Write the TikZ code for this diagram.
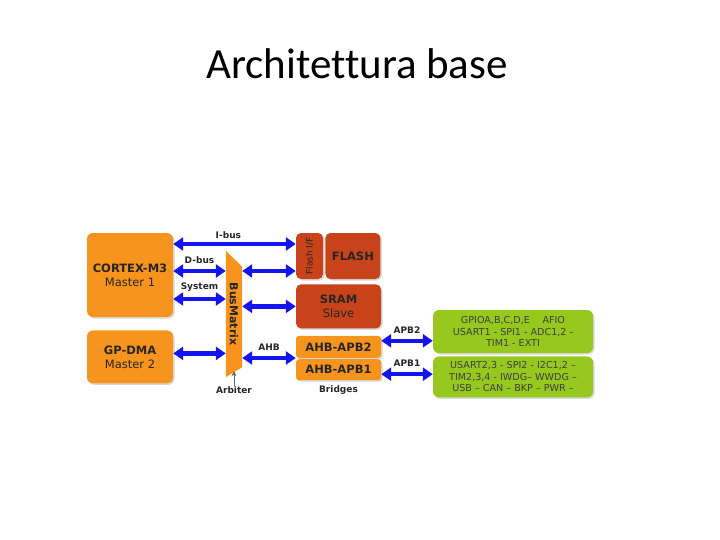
\documentclass[tikz,border=0pt]{standalone}
\usepackage{fontspec}
\setmainfont{Carlito}[Ligatures=CommonOff]
\newfontfamily\diagfont{DejaVu Sans}
\usepackage{tikz}
\usetikzlibrary{arrows.meta, positioning, shadows}
\definecolor{orange}{HTML}{F7941D}
\definecolor{rust}{HTML}{C8431A}
\definecolor{lime}{HTML}{96C81E}
\definecolor{busblue}{HTML}{1414F0}
\tikzset{
  master/.style={rectangle, rounded corners=6pt, fill=orange, align=center, text=black!85, inner sep=0pt, font=\diagfont\fontsize{11.5}{14}\selectfont, drop shadow={shadow xshift=1.5pt, shadow yshift=-1.5pt, opacity=0.3}},
  slave/.style={rectangle, rounded corners=5pt, fill=rust, align=center, text=black!85, inner sep=0pt, font=\diagfont\fontsize{11.5}{14}\selectfont, drop shadow={shadow xshift=1.5pt, shadow yshift=-1.5pt, opacity=0.3}},
  bridge/.style={rectangle, rounded corners=3pt, fill=orange, text=black!85, inner sep=0pt, font=\diagfont\bfseries\fontsize{11.5}{13}\selectfont, drop shadow={shadow xshift=1.5pt, shadow yshift=-1.5pt, opacity=0.3}},
  periph/.style={rectangle, rounded corners=6pt, fill=lime, align=center, text=black!75, inner sep=0pt, font=\diagfont\fontsize{9.6}{11.5}\selectfont, drop shadow={shadow xshift=1.5pt, shadow yshift=-1.5pt, opacity=0.3}},
  bus/.style={{Triangle[width=13pt,length=10pt]}-{Triangle[width=13pt,length=10pt]}, line width=4.5pt, draw=busblue},
  lbl/.style={font=\diagfont\bfseries\fontsize{9}{10}\selectfont, text=black!85, inner sep=0pt},
}
\begin{document}
\begin{tikzpicture}[x=1pt, y=-1pt]
  \useasboundingbox (0,0) rectangle (720,540);

  \node (title) [anchor=base, font=\fontsize{43}{50}\selectfont] at (357,79) {Architettura base};

  % masters
  \node (cortex) [master, minimum width=86pt, minimum height=84pt] at (130,275) {\textbf{CORTEX-M3}\\Master 1};
  \node (dma) [master, minimum width=86pt, minimum height=53pt, below=13pt of cortex] {\textbf{GP-DMA}\\Master 2};

  % bus matrix
  \node (bm) [minimum width=16pt, minimum height=126pt, inner sep=0pt] at (234,314) {};
  \fill [orange] (bm.north west) -- ([yshift=-16pt]bm.north east) -- ([yshift=10pt]bm.south east) -- (bm.south west) -- cycle;
  \node (bmlabel) [lbl, rotate=-90, font=\diagfont\bfseries\fontsize{11}{12}\selectfont] at (bm) {BusMatrix};

  % slaves
  \node (flashif) [slave, minimum width=27pt, minimum height=46pt] at (309.5,256) {};
  \node (flashiflabel) [rotate=90, inner sep=0pt, text=black!85, font=\diagfont\fontsize{9}{10}\selectfont] at (flashif) {Flash I/F};
  \node (flash) [slave, minimum width=55pt, minimum height=46pt, right=2pt of flashif] {\textbf{FLASH}};
  \node (sram) [slave, minimum width=85pt, minimum height=44pt, below right=5pt and 0pt of flashif.south west] {\textbf{SRAM}\\Slave};

  % bridges
  \node (apb2) [bridge, minimum width=85pt, minimum height=22pt, below right=7pt and 0pt of sram.south west] {AHB-APB2};
  \node (apb1) [bridge, minimum width=85pt, minimum height=21pt, below=1pt of apb2] {AHB-APB1};
  \node (bridges) [lbl] at (apb1.south |- 0,390) {Bridges};

  % peripherals
  \node (apbtwo) [periph, minimum width=160pt, minimum height=43pt] at (513,331.5) {GPIOA,B,C,D,E \quad AFIO\\USART1 - SPI1 - ADC1,2 -\\TIM1 - EXTI};
  \node (apbone) [periph, minimum width=160pt, minimum height=41pt, below=3pt of apbtwo] {USART2,3 - SPI2 - I2C1,2 –\\TIM2,3,4 - IWDG– WWDG –\\USB – CAN – BKP – PWR –};

  \coordinate (ib) at ([yshift=31pt]cortex.east);
  \coordinate (fl) at ([yshift=-15pt]flashif.west);
  \coordinate (p2) at ([yshift=6pt]apb2.east);
  \coordinate (p1) at ([yshift=-4.5pt]apb1.east);

  \draw [bus] (ib) -- node [lbl, above=3pt, pos=0.45] {I-bus} (ib -| flashif.west);
  \draw [bus] ([yshift=4pt]cortex.east) -- node [lbl, above=5pt] {D-bus} ([yshift=4pt]cortex.east -| bm.west);
  \draw [bus] ([yshift=-24pt]cortex.east) -- node [lbl, above=5pt] {System} ([yshift=-24pt]cortex.east -| bm.west);
  \draw [bus] ([yshift=3.5pt]dma.east) -- ([yshift=3.5pt]dma.east -| bm.west);
  \draw [bus] (bm.east |- fl) -- (fl);
  \draw [bus] (bm.east |- sram.west) -- (sram.west);
  \draw [bus] (bm.east |- apb2.south west) -- node [lbl, above=5pt] {AHB} (apb2.south west);
  \draw [bus] (p2) -- node [lbl, above=5pt] {APB2} (p2 -| apbtwo.west);
  \draw [bus] (p1) -- node [lbl, above=5pt] {APB1} (p1 -| apbone.west);

  \node (arb) [lbl] at (234,390) {Arbiter};
  \draw [-{Stealth[length=5pt, width=5pt]}, draw=black!60, line width=0.8pt] (arb.north) -- ([yshift=6pt]bm.south);

\end{tikzpicture}
\end{document}
